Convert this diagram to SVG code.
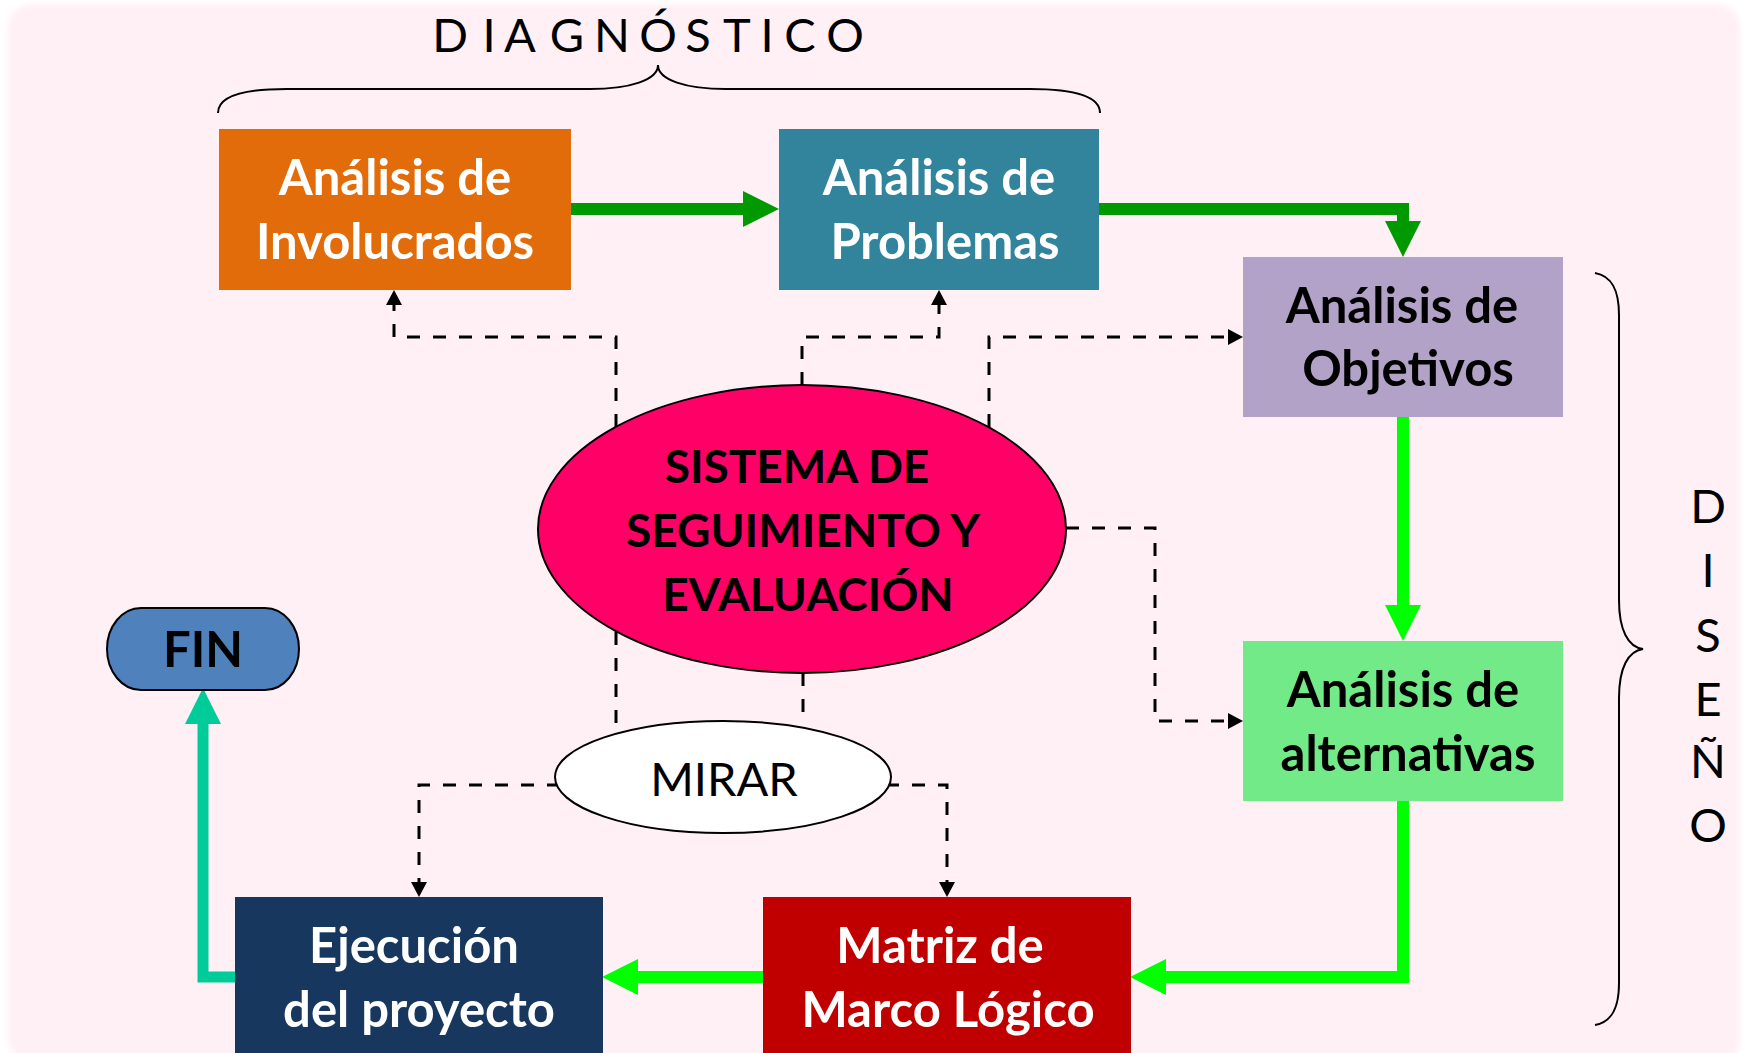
<svg xmlns="http://www.w3.org/2000/svg" width="1747" height="1053" viewBox="0 0 1747 1053">
<style>
.bt{font-family:Lato,"Open Sans","Liberation Sans",sans-serif;font-weight:700;font-size:49px;text-anchor:middle}
.et{font-family:Lato,"Open Sans","Liberation Sans",sans-serif;font-weight:700;font-size:46px;text-anchor:middle;fill:#000}
.w{fill:#ffffff}
.k{fill:#000000}
.rt{font-family:Lato,"Open Sans","Liberation Sans",sans-serif;font-weight:400;font-size:47px;text-anchor:middle;fill:#000}
.dash{fill:none;stroke:#000;stroke-width:3;stroke-dasharray:13 13}
.dg{fill:none;stroke:#009900;stroke-width:12;stroke-linejoin:miter}
.bg{fill:none;stroke:#00FF00;stroke-width:12;stroke-linejoin:miter}
.tg{fill:none;stroke:#00CC99;stroke-width:11;stroke-linejoin:miter}
.brace{fill:none;stroke:#000;stroke-width:2}
</style>
<defs>
<filter id="soft" x="-5%" y="-5%" width="110%" height="110%"><feGaussianBlur stdDeviation="3"/></filter>
<marker id="aDG" markerUnits="userSpaceOnUse" markerWidth="36" markerHeight="36" refX="0" refY="18" orient="auto" viewBox="0 0 36 36"><path d="M0,0 L36,18 L0,36 z" fill="#009900"/></marker>
<marker id="aBG" markerUnits="userSpaceOnUse" markerWidth="36" markerHeight="36" refX="0" refY="18" orient="auto" viewBox="0 0 36 36"><path d="M0,0 L36,18 L0,36 z" fill="#00FF00"/></marker>
<marker id="aTG" markerUnits="userSpaceOnUse" markerWidth="36" markerHeight="36" refX="0" refY="18" orient="auto" viewBox="0 0 36 36"><path d="M0,0 L36,18 L0,36 z" fill="#00CC99"/></marker>
<marker id="aK" markerUnits="userSpaceOnUse" markerWidth="16" markerHeight="16" refX="0" refY="8" orient="auto" viewBox="0 0 16 16"><path d="M0,0 L15,8 L0,16 z" fill="#000"/></marker>
</defs>
<rect x="0" y="0" width="1747" height="1053" fill="#ffffff"/>
<rect x="8" y="4" width="1732" height="1060" rx="24" fill="#FFF0F6" filter="url(#soft)"/>

<g id="labels">
<text class="rt" x="450 489 520 567 612 658 698 737 767 800 845" y="52">DIAGNÓSTICO</text>
<path class="brace" d="M218,113 C218,97 240,89 287,89 L590,89 C630,89 658,80 658,65 C658,80 686,89 726,89 L1030,89 C1077,89 1100,97 1100,113"/>
<path class="brace" d="M1595,273 C1612,276 1619,290 1619,315 L1619,600 C1619,630 1628,647 1643,649 C1628,651 1619,668 1619,698 L1619,983 C1619,1008 1612,1022 1595,1025"/>
<text class="rt" x="1708" y="523">D</text>
<text class="rt" x="1708" y="587">I</text>
<text class="rt" x="1708" y="652">S</text>
<text class="rt" x="1708" y="716">E</text>
<text class="rt" x="1708" y="778">Ñ</text>
<text class="rt" x="1708" y="842">O</text>
</g>

<g id="connectors">
<path class="dg" d="M571,209 H743" marker-end="url(#aDG)"/>
<path class="dg" d="M1099,209 H1403 V221" marker-end="url(#aDG)"/>
<path class="bg" d="M1403,417 V605" marker-end="url(#aBG)"/>
<path class="bg" d="M1403,801 V977 H1166" marker-end="url(#aBG)"/>
<path class="bg" d="M763,977 H638" marker-end="url(#aBG)"/>
<path class="tg" d="M235,977 H203 V724" marker-end="url(#aTG)"/>
<path class="dash" d="M616,427 V337 H394 V305" marker-end="url(#aK)"/>
<path class="dash" d="M802,385 V337 H939 V305" marker-end="url(#aK)"/>
<path class="dash" d="M989,427 V337 H1228" marker-end="url(#aK)"/>
<path class="dash" d="M1066,528 H1155 V721 H1228" marker-end="url(#aK)"/>
<path class="dash" d="M616,632 V731"/>
<path class="dash" d="M803,673 V717"/>
<path class="dash" d="M560,785 H419 V882" marker-end="url(#aK)"/>
<path class="dash" d="M886,785 H947 V882" marker-end="url(#aK)"/>
</g>

<g id="n-involucrados">
<rect x="219" y="129" width="352" height="161" fill="#E36C0A"/>
<text class="bt w" x="395" y="195">Análisis de</text>
<text class="bt w" x="395" y="259">Involucrados</text>
</g>
<g id="n-problemas">
<rect x="779" y="129" width="320" height="161" fill="#31849B"/>
<text class="bt w" x="939" y="195">Análisis de</text>
<text class="bt w" x="945" y="259">Problemas</text>
</g>
<g id="n-objetivos">
<rect x="1243" y="257" width="320" height="160" fill="#B2A2C7"/>
<text class="bt k" x="1402" y="323">Análisis de</text>
<text class="bt k" x="1408" y="386">Objetivos</text>
</g>
<g id="n-alternativas">
<rect x="1243" y="641" width="320" height="160" fill="#72EA88"/>
<text class="bt k" x="1403" y="707">Análisis de</text>
<text class="bt k" x="1408" y="771">alternativas</text>
</g>
<g id="n-matriz">
<rect x="763" y="897" width="368" height="160" fill="#C00000"/>
<text class="bt w" x="940" y="963">Matriz de</text>
<text class="bt w" x="948" y="1027">Marco Lógico</text>
</g>
<g id="n-ejecucion">
<rect x="235" y="897" width="368" height="160" fill="#17375E"/>
<text class="bt w" x="414" y="963">Ejecución</text>
<text class="bt w" x="419" y="1027">del proyecto</text>
</g>
<g id="n-fin">
<rect x="107" y="608" width="192" height="82" rx="34" ry="41" fill="#4F81BD" stroke="#000" stroke-width="2"/>
<text class="bt k" x="203" y="667">FIN</text>
</g>
<g id="n-sistema">
<ellipse cx="802" cy="529" rx="264" ry="144" fill="#FF0066" stroke="#000" stroke-width="2"/>
<text class="et" x="797" y="483">SISTEMA DE</text>
<text class="et" x="803" y="547">SEGUIMIENTO Y</text>
<text class="et" x="808" y="611">EVALUACIÓN</text>
</g>
<g id="n-mirar">
<ellipse cx="723" cy="777" rx="168" ry="56" fill="#ffffff" stroke="#000" stroke-width="2"/>
<text class="rt" x="724" y="796">MIRAR</text>
</g>
</svg>
